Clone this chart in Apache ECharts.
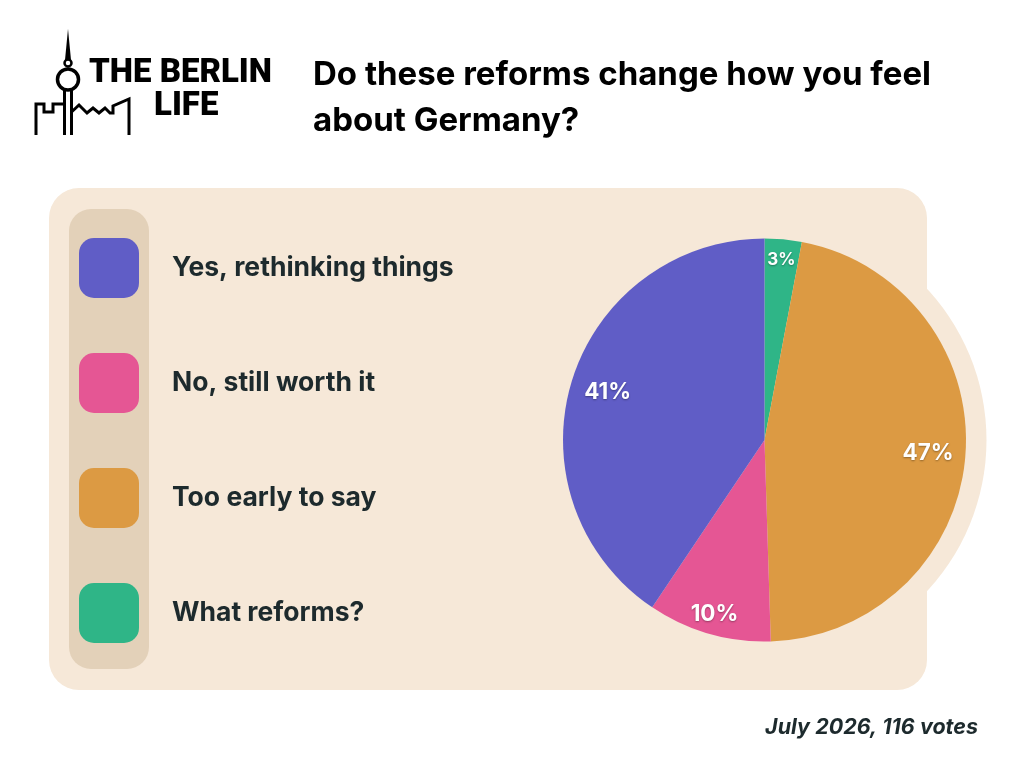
<!DOCTYPE html>
<html><head><meta charset="utf-8">
<script src="https://cdn.jsdelivr.net/npm/echarts@6/dist/echarts.min.js"></script>
<style>html,body{margin:0;padding:0;background:#fff}#c{width:1024px;height:768px}</style>
</head><body><div id="c"></div>
<script>
const categories = ['Yes, rethinking things', 'No, still worth it', 'Too early to say', 'What reforms?'];
const shares = [41, 10, 47, 3];
const sliceColors = ['#605dc6', '#e55694', '#dc9a43', '#2fb587'];
const titleLines = ['Do these reforms change how you feel', 'about Germany?'];
const footer = 'July 2026, 116 votes';

const chart = echarts.init(document.getElementById('c'));
const cx = 764.5, cy = 440, R = 201.5;
const ink = '#1d2a2d';

// clockwise from top: last category first
const order = [3, 2, 1, 0];
const pieData = order.map(i => ({ name: categories[i], value: shares[i], itemStyle: { color: sliceColors[i] } }));

function labelData(showFn) {
  return order.map(i => ({
    name: categories[i], value: shares[i],
    itemStyle: { color: 'rgba(0,0,0,0)' },
    label: { show: showFn(shares[i]), fontSize: shares[i] < 5 ? 17 : 22.5 }
  }));
}
const labelStyle = {
  position: 'inside', formatter: '{c}%', color: '#fff', fontFamily: 'Inter', fontWeight: 700,
  textShadowColor: 'rgba(0,0,0,0.35)', textShadowBlur: 2, textShadowOffsetY: 1
};

const graphics = [
  { type: 'circle', z: 0, shape: { cx: cx, cy: cy, r: 222 }, style: { fill: '#f6e8d8' } },
  { type: 'rect', z: 0, shape: { x: 49, y: 188, width: 878, height: 502, r: 30 }, style: { fill: '#f6e8d8' } },
  { type: 'rect', z: 1, shape: { x: 69, y: 209, width: 80, height: 460, r: 22 }, style: { fill: '#e3d1b9' } },
  // logo: tower
  { type: 'polygon', shape: { points: [[68, 29], [65, 60], [71, 60]] }, style: { fill: '#000' } },
  { type: 'circle', shape: { cx: 68, cy: 63, r: 3.5 }, style: { fill: 'none', stroke: '#000', lineWidth: 2.5 } },
  { type: 'circle', shape: { cx: 68, cy: 79.5, r: 10.5 }, style: { fill: 'none', stroke: '#000', lineWidth: 3.5 } },
  { type: 'line', shape: { x1: 64.5, y1: 90, x2: 64.5, y2: 135 }, style: { stroke: '#000', lineWidth: 3 } },
  { type: 'line', shape: { x1: 71.5, y1: 90, x2: 71.5, y2: 135 }, style: { stroke: '#000', lineWidth: 3 } },
  { type: 'polyline', shape: { points: [[36, 135], [36, 104], [44, 104], [44, 112], [53, 112], [53, 104], [64.5, 104]] }, style: { fill: 'none', stroke: '#000', lineWidth: 3, lineJoin: 'miter' } },
  { type: 'polyline', shape: { points: [[71.5, 112], [79, 105], [87, 113], [93, 108], [99, 113], [105, 108], [110, 113], [113, 113], [113, 106], [129, 99], [129, 135]] }, style: { fill: 'none', stroke: '#000', lineWidth: 3, lineJoin: 'miter' } },
  { type: 'text', style: { x: 89, y: 74, text: 'THE BERLIN', font: '900 33px Roboto', fill: '#000', textVerticalAlign: 'middle' } },
  { type: 'text', style: { x: 154, y: 107, text: 'LIFE', font: '900 33px Roboto', fill: '#000', textVerticalAlign: 'middle' } },
  // title
  { type: 'text', style: { x: 313, y: 75, text: titleLines[0], font: '700 33px Inter', fill: '#000', textVerticalAlign: 'middle' } },
  { type: 'text', style: { x: 313, y: 121, text: titleLines[1], font: '700 33px Inter', fill: '#000', textVerticalAlign: 'middle' } },
  // footer
  { type: 'text', style: { x: 978, y: 728, text: footer, font: 'italic 700 21.5px Inter', fill: ink, textAlign: 'right', textVerticalAlign: 'middle' } }
];

chart.setOption({
  animation: false,
  graphic: graphics,
  legend: {
    orient: 'vertical', left: 79, top: 238, padding: 0, itemWidth: 60, itemHeight: 60, itemGap: 55,
    icon: 'roundRect', selectedMode: false, data: categories,
    textStyle: { color: ink, fontFamily: 'Inter', fontWeight: 700, fontSize: 26.5, padding: [0, 0, 0, 28] }
  },
  series: [
    {
      type: 'pie', center: [cx, cy], radius: [0, R], startAngle: 90, clockwise: true,
      data: pieData, label: { show: false }, labelLine: { show: false }, silent: true,
      itemStyle: { borderWidth: 0 }
    },
    {
      type: 'pie', center: [cx, cy], radius: [0, 322], startAngle: 90, clockwise: true, silent: true,
      data: labelData(v => v >= 20), label: labelStyle, labelLine: { show: false }, legendHoverLink: false
    },
    {
      type: 'pie', center: [cx, cy], radius: [150, 206], startAngle: 90, clockwise: true, silent: true,
      data: labelData(v => v < 20), label: labelStyle, labelLine: { show: false }, legendHoverLink: false
    }
  ]
});
</script></body></html>
